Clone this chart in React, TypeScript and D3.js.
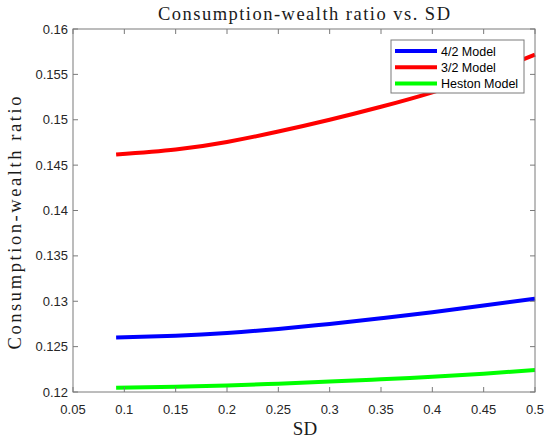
import * as d3 from "d3";

const sd = [0.092, 0.15, 0.2, 0.25, 0.3, 0.35, 0.4, 0.45, 0.5];
const model42 = [0.126, 0.1262, 0.1265, 0.12695, 0.1275, 0.12812, 0.1288, 0.12952, 0.13028];
const model32 = [0.14616, 0.14672, 0.14755, 0.1487, 0.15, 0.15143, 0.15302, 0.15495, 0.15717];
const heston = [0.12048, 0.12058, 0.12072, 0.12092, 0.12115, 0.1214, 0.12168, 0.12202, 0.12242];

const seriesNames = ["4/2 Model", "3/2 Model", "Heston Model"];
const seriesColors = ["#0000ff", "#ff0000", "#00ff00"];

const xTicks = [0.05, 0.1, 0.15, 0.2, 0.25, 0.3, 0.35, 0.4, 0.45, 0.5];
const yTicks = [0.12, 0.125, 0.13, 0.135, 0.14, 0.145, 0.15, 0.155, 0.16];

const W = 550;
const H = 442;
const margin = { top: 29, right: 15, bottom: 50, left: 73 };

const serif = "'Liberation Serif', 'DejaVu Serif', serif";
const sans = "'Liberation Sans', Arial, sans-serif";

export default function App() {
  const x = d3.scaleLinear().domain([0.05, 0.5]).range([margin.left, W - margin.right]);
  const y = d3.scaleLinear().domain([0.12, 0.16]).range([H - margin.bottom, margin.top]);

  const series = [model42, model32, heston];
  const line = d3
    .line<number>()
    .x((_, i) => x(sd[i]))
    .y((d) => y(d))
    .curve(d3.curveNatural);

  const axisColor = "#7a7a7a";
  const textColor = "#262626";
  const tickLen = 5;
  const [x0, x1] = x.range();
  const [y0, y1] = y.range();

  const legend = { x: 391, y: 40, w: 133, h: 53 };

  return (
    <svg
      width={W}
      height={H}
      style={{ position: "absolute", left: 0, top: 0, background: "#fff" }}
    >
      <rect x={0} y={0} width={W} height={H} fill="#fff" />
      <text
        x={304}
        y={20}
        textAnchor="middle"
        fontFamily={serif}
        fontSize={18.5}
        textLength={292}
        lengthAdjust="spacing"
        fill="#1a1a1a"
      >
        Consumption-wealth ratio vs. SD
      </text>

      {series.map((s, i) => (
        <path
          key={seriesNames[i]}
          d={line(s) ?? ""}
          fill="none"
          stroke={seriesColors[i]}
          strokeWidth={4}
        />
      ))}

      {/* box */}
      <rect
        x={x0}
        y={y1}
        width={x1 - x0}
        height={y0 - y1}
        fill="none"
        stroke={axisColor}
        strokeWidth={1}
      />

      {xTicks.map((t) => (
        <g key={"x" + t}>
          <line x1={x(t)} x2={x(t)} y1={y0} y2={y0 - tickLen} stroke={axisColor} />
          <line x1={x(t)} x2={x(t)} y1={y1} y2={y1 + tickLen} stroke={axisColor} />
          <text
            x={x(t)}
            y={y0 + 22}
            textAnchor="middle"
            fontFamily={sans}
            fontSize={13}
            fill={textColor}
          >
            {d3.format("")(t)}
          </text>
        </g>
      ))}

      {yTicks.map((t) => (
        <g key={"y" + t}>
          <line x1={x0} x2={x0 + tickLen} y1={y(t)} y2={y(t)} stroke={axisColor} />
          <line x1={x1} x2={x1 - tickLen} y1={y(t)} y2={y(t)} stroke={axisColor} />
          <text
            x={x0 - 5}
            y={y(t) + 4.5}
            textAnchor="end"
            fontFamily={sans}
            fontSize={13}
            fill={textColor}
          >
            {d3.format("")(t)}
          </text>
        </g>
      ))}

      <text
        x={305}
        y={435}
        textAnchor="middle"
        fontFamily={serif}
        fontSize={19}
        fill="#1a1a1a"
      >
        SD
      </text>
      <text
        transform="translate(21, 223) rotate(-90)"
        textAnchor="middle"
        fontFamily={serif}
        fontSize={18.5}
        textLength={253}
        lengthAdjust="spacing"
        fill="#1a1a1a"
      >
        Consumption-wealth ratio
      </text>

      {/* legend */}
      <rect
        x={legend.x}
        y={legend.y}
        width={legend.w}
        height={legend.h}
        fill="#fff"
        stroke={axisColor}
      />
      {seriesNames.map((n, i) => (
        <g key={n} transform={`translate(${legend.x}, ${legend.y + 11 + i * 16.3})`}>
          <line x1={4} x2={46} y1={0} y2={0} stroke={seriesColors[i]} strokeWidth={4} />
          <text x={50} y={4.5} fontFamily={sans} fontSize={12.5} fill="#000">
            {n}
          </text>
        </g>
      ))}
    </svg>
  );
}
